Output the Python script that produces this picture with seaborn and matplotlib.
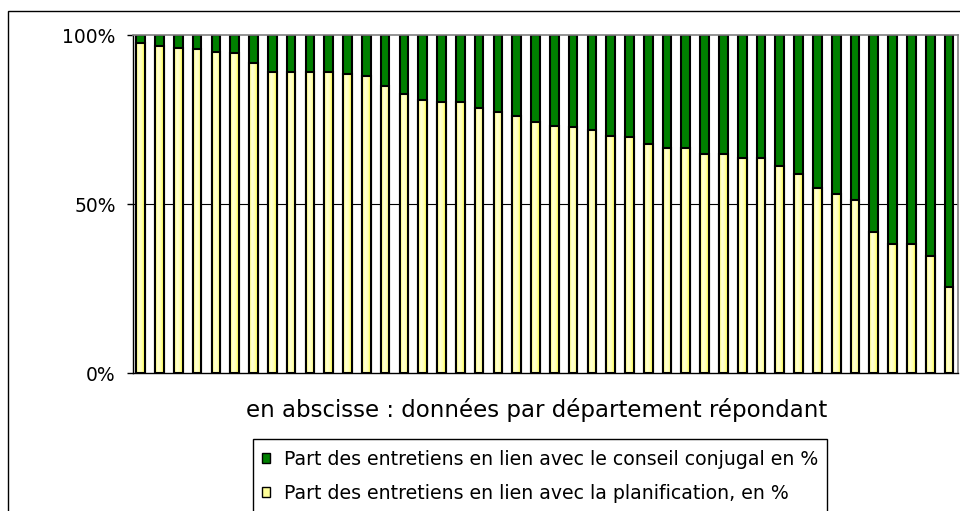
import matplotlib
matplotlib.use('Agg')
import matplotlib.pyplot as plt
import numpy as np
import pandas as pd
import seaborn as sns
from matplotlib.colors import LinearSegmentedColormap
from matplotlib.patches import Patch, Rectangle


# data, one bar per responding department
planif = [97.5, 96.8, 96.2, 95.8, 95.1, 94.6, 91.6, 89.1, 89.1, 89.1, 89.1,
          88.6, 88.0, 85.0, 82.6, 80.8, 80.3, 80.3, 78.5, 77.3, 76.1, 74.3,
          73.0, 72.7, 71.9, 70.2, 69.7, 67.7, 66.6, 66.5, 64.8, 64.8, 63.7,
          63.7, 61.3, 59.0, 54.8, 53.1, 51.1, 41.8, 38.1, 38.1, 34.6, 25.3]
conseil = [2.5, 3.2, 3.8, 4.2, 4.9, 5.4, 8.4, 10.9, 10.9, 10.9, 10.9,
           11.4, 12.0, 15.0, 17.4, 19.2, 19.7, 19.7, 21.5, 22.7, 23.9, 25.7,
           27.0, 27.3, 28.1, 29.8, 30.3, 32.3, 33.4, 33.5, 35.2, 35.2, 36.3,
           36.3, 38.7, 41.0, 45.2, 46.9, 48.9, 58.2, 61.9, 61.9, 65.4, 74.7]
departements = ['D%02d' % (i + 1) for i in range(len(planif))]

label_conseil = 'Part des entretiens en lien avec le conseil conjugal en %'
label_planif = 'Part des entretiens en lien avec la planification, en %'
xlabel = 'en abscisse : données par département répondant'
ytick_vals = [0, 50, 100]
ytick_labels = ['0%', '50%', '100%']

green = '#008000'
pale_yellow = '#FFFF99'

df = pd.DataFrame({'dept': departements, 'planif': planif, 'conseil': conseil})
df['total'] = df['planif'] + df['conseil']

sns.set_style('white')
plt.rcParams['font.family'] = ['DejaVu Sans']
plt.rcParams['text.color'] = 'black'
plt.rcParams['ytick.color'] = 'black'

fig = plt.figure(figsize=(9.6, 5.11), dpi=100)
ax = fig.add_axes([133 / 960, 1 - 373 / 511, (958 - 133) / 960, (373 - 35) / 511])

# stacked 100% bars: full bar in green, planification part on top in yellow
sns.barplot(data=df, x='dept', y='total', color=green, saturation=1,
            width=0.46, edgecolor='black', linewidth=1.5, ax=ax)
n_green = len(ax.patches)
sns.barplot(data=df, x='dept', y='planif', color=pale_yellow, saturation=1,
            width=0.46, edgecolor='black', linewidth=1.5, ax=ax)

# horizontal gradient inside the yellow bars
cmap = LinearSegmentedColormap.from_list(
    'jaune', ['#FFFF66', '#FFFFD8', '#FFFFB0', '#FFFF33'])
grad = np.linspace(0, 1, 64).reshape(1, -1)
for p in ax.patches[n_green:]:
    x0, y0 = p.get_x(), p.get_y()
    w, h = p.get_width(), p.get_height()
    im = ax.imshow(grad, cmap=cmap, extent=[x0, x0 + w, y0, y0 + h],
                   aspect='auto', zorder=1.5, interpolation='bilinear')
    im.set_clip_path(p)
    p.set_facecolor('none')
    p.set_zorder(2)

ax.set_xlim(-0.41, len(planif) - 1 + 0.48)
ax.set_ylim(0, 100)
ax.set_yticks(ytick_vals)
ax.set_yticklabels(ytick_labels, fontsize=13.5)
ax.set_xticks([])
ax.set_xlabel('')
ax.set_ylabel('')
ax.tick_params(axis='y', direction='out', length=4.5, width=1, color='black',
               labelcolor='black', pad=8, left=True)
ax.axhline(50, color='black', lw=0.8, zorder=0.5)

for side in ['top', 'right']:
    ax.spines[side].set_color('#808080')
    ax.spines[side].set_linewidth(1.2)
for side in ['left', 'bottom']:
    ax.spines[side].set_color('black')
    ax.spines[side].set_linewidth(1)

fig.text(537 / 960, 1 - 410 / 511, xlabel, fontsize=16.5, color='black',
         ha='center', va='center')

# legend without its own frame; the box is drawn below so it can run off the picture
handles = [Patch(facecolor=green, edgecolor='black', lw=1),
           Patch(facecolor=pale_yellow, edgecolor='black', lw=1)]
leg = fig.legend(handles, [label_conseil, label_planif],
                 loc='upper left', bbox_to_anchor=(253 / 960, 1 - 441 / 511),
                 fontsize=13.6, frameon=False,
                 handlelength=0.45, handleheight=0.45, handletextpad=0.75,
                 borderpad=0.45, labelspacing=0.82, borderaxespad=0)
for t in leg.get_texts():
    t.set_color('black')
fig.patches.append(Rectangle((253 / 960, -0.1), (827 - 253) / 960, 0.1 + 1 - 439 / 511,
                             transform=fig.transFigure, fill=False,
                             edgecolor='black', lw=1))

# outer chart frame, cut by the picture on the right and bottom
fig.patches.append(Rectangle((8 / 960, -0.2), 1.2, 1.2 - 11 / 511,
                             transform=fig.transFigure, fill=False,
                             edgecolor='black', lw=1))

fig.savefig('out.png', dpi=100)
